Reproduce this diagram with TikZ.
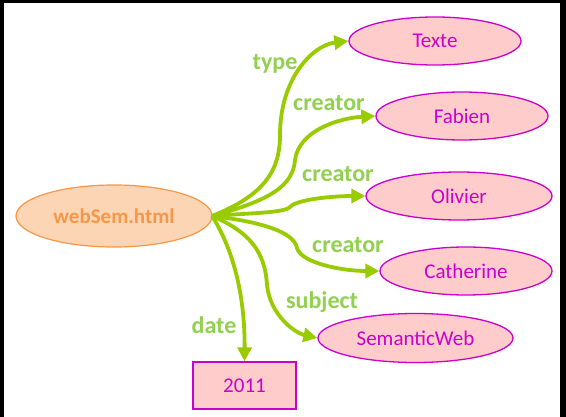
\documentclass[tikz,border=0pt]{standalone}
\usepackage{fontspec}
\setmainfont{Carlito}
\usetikzlibrary{shapes.geometric,arrows.meta}
\definecolor{arrowgreen}{HTML}{99CC00}
\definecolor{labelgreen}{HTML}{92D050}
\definecolor{pinkfill}{HTML}{FFCCCC}
\definecolor{magentaline}{HTML}{CC00CC}
\definecolor{orangefill}{HTML}{FCD5B4}
\definecolor{orangeline}{HTML}{F79646}
\begin{document}
\begin{tikzpicture}[x=1pt,y=-1pt,
  resource/.style={ellipse,draw=magentaline,fill=pinkfill,line width=1.3pt,
    text=magentaline,inner sep=0pt,minimum height=48pt,
    font=\fontsize{21}{25}\selectfont},
  literal/.style={rectangle,draw=magentaline,fill=pinkfill,line width=1.3pt,
    text=magentaline,inner sep=0pt,minimum width=103pt,minimum height=47pt,
    font=\fontsize{21}{25}\selectfont},
  subjectnode/.style={ellipse,draw=orangeline,fill=orangefill,line width=1.2pt,
    text=orangeline,inner sep=0pt,minimum width=196pt,minimum height=62pt,
    font=\fontsize{21}{25}\selectfont\bfseries},
  prop/.style={text=labelgreen,inner sep=0pt,font=\fontsize{24}{28}\selectfont\bfseries},
  link/.style={draw=arrowgreen,line width=3.8pt,
    -{Triangle[length=14pt,width=14pt]}}]
\useasboundingbox (0,0) rectangle (566,417);
% frame
\fill[white] (0,0) rectangle (566,417);
\fill[black] (0,0) rectangle (566,3);
\fill[black] (0,0) rectangle (3.5,417);
\fill[black] (560,0) rectangle (566,417);

% nodes
\node[subjectnode] (doc) at (114,216) {webSem.html};
\node[resource,minimum width=172pt] (texte) at (435,41) {Texte};
\node[resource,minimum width=172pt] (fabien) at (462,116) {Fabien};
\node[resource,minimum width=186pt] (olivier) at (459,196) {Olivier};
\node[resource,minimum width=172pt] (catherine) at (466,271) {Catherine};
\node[resource,minimum width=195pt,minimum height=49pt] (semweb) at (415.5,338) {SemanticWeb};
\node[literal] (year) at (244.5,385.5) {2011};

\coordinate (src) at (212,216);

% connectors
\draw[link] (src) .. controls (265,195) and (280,170) .. (280,135)
  .. controls (280,78) and (313,45) .. (texte.west);
\draw[link] (src) .. controls (272,200) and (293,185) .. (295,160)
  .. controls (299,130) and (340,118) .. (fabien.west);
\draw[link] (src) .. controls (250,213) and (284,213) .. (290,207)
  .. controls (297,199) and (335,196) .. (olivier.west);
\draw[link] (src) .. controls (262,222) and (294,232) .. (297,248)
  .. controls (301,263) and (342,271) .. (catherine.west);
\draw[link] (src) .. controls (250,232) and (265,252) .. (267,285)
  .. controls (270,315) and (295,333) .. (semweb.west);
\draw[link] (src) .. controls (235,252) and (245,300) .. (year.north);

% property labels
\node[prop] (ltype) at (275,64) {type};
\node[prop] (lc1) at (329,103) {creator};
\node[prop] (lc2) at (338,174) {creator};
\node[prop] (lc3) at (348,245) {creator};
\node[prop] (lsub) at (322,302) {subject};
\node[prop] (ldate) at (214,325) {date};
\end{tikzpicture}
\end{document}
